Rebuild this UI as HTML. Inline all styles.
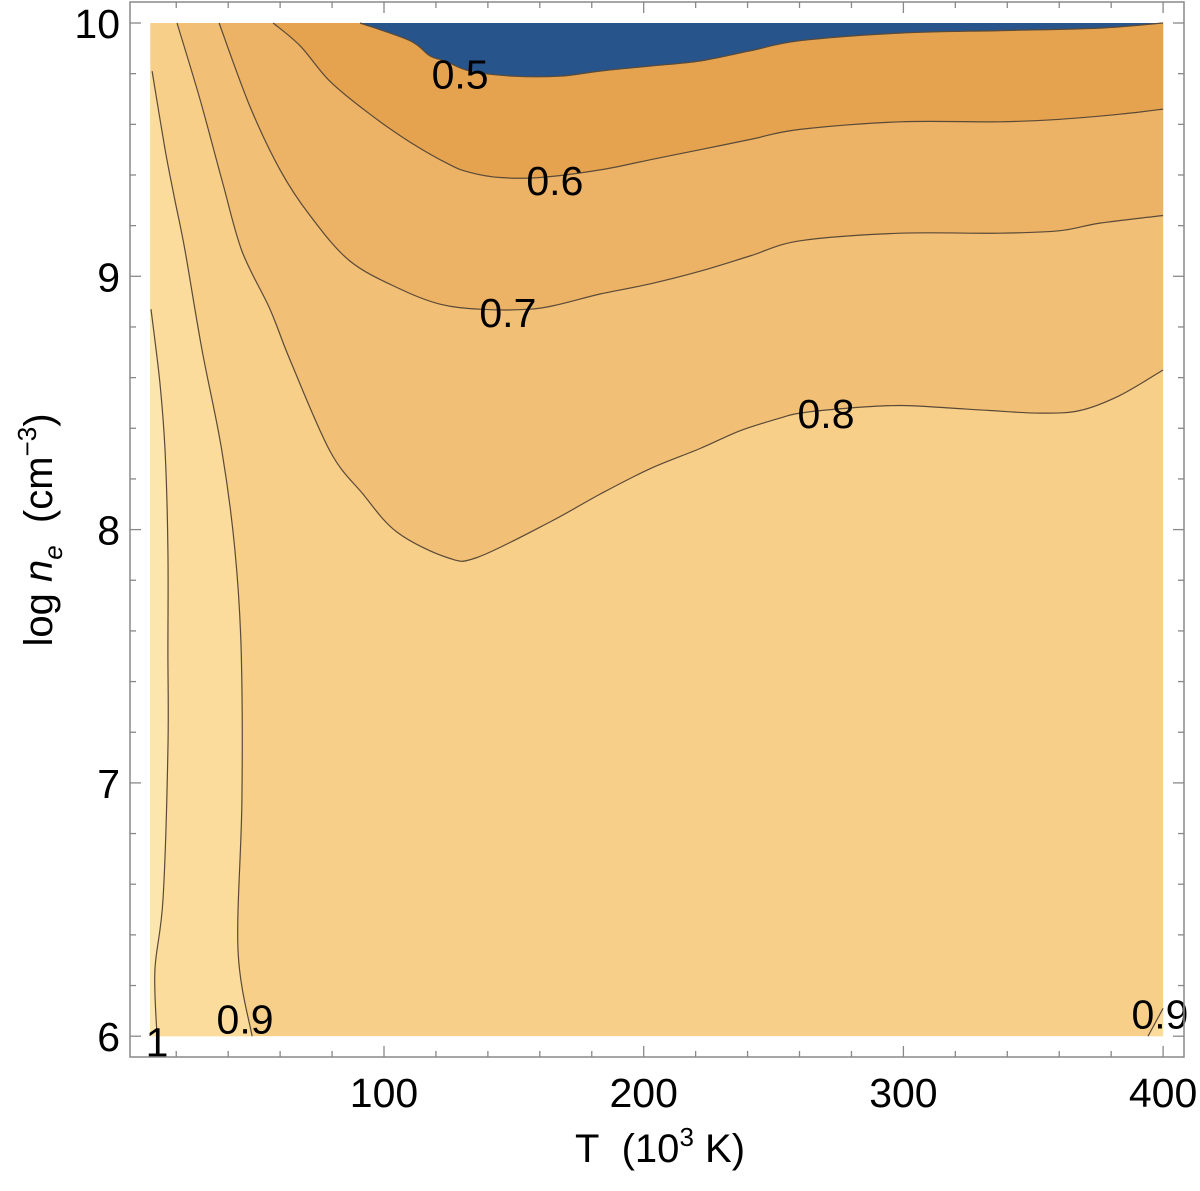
<!DOCTYPE html>
<html><head><meta charset="utf-8"><style>
html,body{margin:0;padding:0;background:#fff;}
svg{display:block;font-family:"Liberation Sans",sans-serif;}
</style></head><body>
<svg id="chart" width="1200" height="1191" viewBox="0 0 1200 1191" xmlns="http://www.w3.org/2000/svg">
<g id="fills"></g>
<g id="lines"></g>
<g id="labels"></g>
<g id="axes"></g>
<text x="660" y="1162" font-size="40" text-anchor="middle">T&#160; (10<tspan font-size="26" dy="-16">3</tspan><tspan dy="16"> K)</tspan></text>
<text transform="translate(52,530) rotate(-90)" font-size="40" text-anchor="middle">log <tspan font-style="italic">n</tspan><tspan font-style="italic" font-size="26" dy="10">e</tspan><tspan dy="-10">&#160;&#160;(cm</tspan><tspan font-size="26" dy="-16">−3</tspan><tspan dy="16">)</tspan></text>
</svg>
<script>
// data arrays (T in 10^3 K, log ne)
const xRange=[10,400];
const yRange=[6,10];
const xTicks=[100,200,300,400];
const yTicks=[6,7,8,9,10];
const c05T=[90.8,110.0,117.7,123.5,133.1,149.7,167.8,183.2,202.4,221.7,240.9,260.2,298.7,337.2,375.7,400];
const c05N=[10,9.93,9.87,9.85,9.81,9.79,9.79,9.81,9.83,9.85,9.89,9.93,9.96,9.97,9.98,10.0];
const c06T=[57.3,67.7,79.2,94.6,110.0,125.4,133.1,144.7,160.1,183.2,202.4,221.7,240.9,260.2,298.7,337.2,360.3,383.4,400];
const c06N=[10,9.91,9.77,9.64,9.53,9.44,9.41,9.39,9.39,9.42,9.46,9.50,9.54,9.58,9.61,9.61,9.62,9.64,9.66];
const c07T=[36.5,48.4,60.0,71.5,86.9,106.2,121.6,137.0,156.2,167.8,183.2,202.4,221.7,240.9,260.2,298.7,337.2,360.3,375.7,400];
const c07N=[10,9.67,9.42,9.24,9.06,8.95,8.89,8.87,8.87,8.89,8.93,8.97,9.02,9.08,9.14,9.17,9.17,9.18,9.21,9.24];
const c08T=[20.3,29.1,37.6,45.3,56.1,63.8,79.2,91.9,105.0,124.3,135.8,163.9,183.2,202.4,221.7,237.1,252.5,260.2,279.4,298.7,317.9,333.3,352.6,368.0,383.4,400];
const c08N=[10,9.70,9.38,9.10,8.87,8.67,8.31,8.14,7.99,7.89,7.89,8.03,8.14,8.24,8.32,8.39,8.44,8.46,8.48,8.49,8.48,8.47,8.46,8.47,8.53,8.63];
const c09T=[10.7,15.7,19.5,23.4,29.9,37.6,42.6,45.0,45.3,43.8,49.2];
const c09N=[9.81,9.50,9.30,9.10,8.71,8.31,7.92,7.52,6.93,6.34,6.0];
const c10T=[10.3,13.7,15.7,16.8,16.8,16.8,14.9,11.8,12.6];
const c10N=[8.87,8.58,8.31,7.92,7.52,7.13,6.54,6.26,6.0];
const c09bT=[394.2,400];
const c09bN=[6.0,6.11];
const labelText=["0.5","0.6","0.7","0.8","0.9","1","0.9"];
const labelT=[129.3,165.8,147.7,270.2,46.5,12.6,398.8];
const labelN=[9.80,9.38,8.86,8.46,6.07,5.98,6.09];

const X0=384, XS=2.597, Y0=23, YS=253.3;
function sx(t){return X0+(t-100)*XS;}
function sy(n){return Y0+(10-n)*YS;}
const NS='http://www.w3.org/2000/svg';
function xy(T,N){return T.map((t,i)=>[sx(t),sy(N[i])]);}
function smooth(P){
  let d='M'+P[0][0].toFixed(1)+','+P[0][1].toFixed(1);
  for(let i=0;i<P.length-1;i++){
    const p0=P[Math.max(0,i-1)],p1=P[i],p2=P[i+1],p3=P[Math.min(P.length-1,i+2)];
    const c1=[p1[0]+(p2[0]-p0[0])/6,p1[1]+(p2[1]-p0[1])/6];
    const c2=[p2[0]-(p3[0]-p1[0])/6,p2[1]-(p3[1]-p1[1])/6];
    d+=' C'+c1[0].toFixed(1)+','+c1[1].toFixed(1)+' '+c2[0].toFixed(1)+','+c2[1].toFixed(1)+' '+p2[0].toFixed(1)+','+p2[1].toFixed(1);
  }
  return d;
}
function mk(tag,parent){const e=document.createElementNS(NS,tag);parent.appendChild(e);return e;}

const fills=document.getElementById('fills');
const base=mk('rect',fills);


base.setAttribute('x',sx(xRange[0]));base.setAttribute('y',sy(yRange[1]));
base.setAttribute('width',sx(xRange[1])-sx(xRange[0]));base.setAttribute('height',sy(yRange[0])-sy(yRange[1]));
base.setAttribute('fill','#f7cf89');

function region(name,T,N,extraT,extraN,color){
  const p=mk('path',fills);
  
  
  let d=smooth(xy(T,N));
  xy(extraT,extraN).forEach(q=>{d+=' L'+q[0].toFixed(1)+','+q[1].toFixed(1);});
  p.setAttribute('d',d+' Z');
  p.setAttribute('fill',color);
}
region('band-0.9-1',c09T,c09N,[xRange[0],xRange[0]],[yRange[0],c09N[0]],'#fbdc9c');
region('band-above-1',c10T,c10N,[xRange[0],xRange[0]],[yRange[0],c10N[0]],'#fde6ad');
region('band-0.9-1-corner',c09bT,c09bN,[xRange[1]],[yRange[0]],'#fbdc9c');
region('band-0.7-0.8',c08T,c08N,[xRange[1]],[yRange[1]],'#f1bf75');
region('band-0.6-0.7',c07T,c07N,[xRange[1]],[yRange[1]],'#ecb265');
region('band-0.5-0.6',c06T,c06N,[xRange[1]],[yRange[1]],'#e6a34f');
region('band-below-0.5',c05T,c05N,[xRange[1]],[yRange[1]],'#27548a');

const lines=document.getElementById('lines');
function line(name,T,N){
  const l=mk('path',lines);
  
  
  l.setAttribute('d',smooth(xy(T,N)));
  l.setAttribute('fill','none');l.setAttribute('stroke','#5a4a38');l.setAttribute('stroke-width','1.2');
}
line('contour-0.5',c05T,c05N);
line('contour-0.6',c06T,c06N);
line('contour-0.7',c07T,c07N);
line('contour-0.8',c08T,c08N);
line('contour-0.9',c09T,c09N);
line('contour-1',c10T,c10N);
line('contour-0.9-corner',c09bT,c09bN);

const labels=document.getElementById('labels');
labelText.forEach((s,i)=>{
  const t=mk('text',labels);
  
  
  t.setAttribute('x',sx(labelT[i]));t.setAttribute('y',sy(labelN[i])+15);
  t.setAttribute('font-size','41');t.setAttribute('text-anchor','middle');
  t.textContent=s;
});

const axes=document.getElementById('axes');
const L=130,R=1184,T0=2,B=1057;
const fr=mk('rect',axes);


fr.setAttribute('x',L);fr.setAttribute('y',T0);fr.setAttribute('width',R-L);fr.setAttribute('height',B-T0);
fr.setAttribute('fill','none');fr.setAttribute('stroke','#888');fr.setAttribute('stroke-width','1.5');
function tk(x1,y1,x2,y2){const l=mk('line',axes);
  
  
  l.setAttribute('x1',x1);l.setAttribute('y1',y1);l.setAttribute('x2',x2);l.setAttribute('y2',y2);
  l.setAttribute('stroke','#888');l.setAttribute('stroke-width','1.3');}
for(let v=20;v<=400;v+=20){const x=sx(v);const len=(v%100===0)?11:6;tk(x,B,x,B-len);tk(x,T0,x,T0+len);}
for(let k=0;k<=20;k++){const v=6+k*0.2;const y=sy(v);const len=(k%5===0)?11:6;tk(L,y,L+len,y);tk(R,y,R-len,y);}
xTicks.forEach(v=>{const t=mk('text',axes);
  
  
  t.setAttribute('x',sx(v));t.setAttribute('y',1107);t.setAttribute('font-size','41');t.setAttribute('text-anchor','middle');t.textContent=v;});
yTicks.forEach(v=>{const t=mk('text',axes);
  
  
  t.setAttribute('x',120);t.setAttribute('y',sy(v)+15);t.setAttribute('font-size','41');t.setAttribute('text-anchor','end');t.textContent=v;});
</script>
</body></html>
